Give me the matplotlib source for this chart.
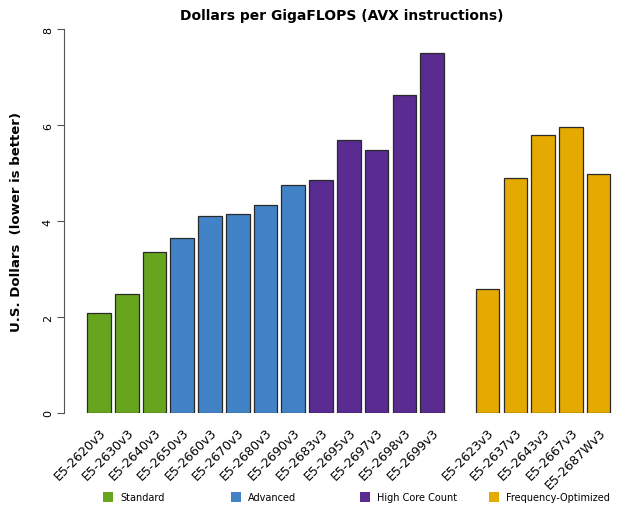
import matplotlib
matplotlib.use("Agg")
import matplotlib.pyplot as plt
from matplotlib.patches import Rectangle

# Data
cpus = ["E5-2620v3", "E5-2630v3", "E5-2640v3",
        "E5-2650v3", "E5-2660v3", "E5-2670v3", "E5-2680v3", "E5-2690v3",
        "E5-2683v3", "E5-2695v3", "E5-2697v3", "E5-2698v3", "E5-2699v3",
        "E5-2623v3", "E5-2637v3", "E5-2643v3", "E5-2667v3", "E5-2687Wv3"]
dollars = [2.08, 2.48, 3.35,
           3.65, 4.10, 4.15, 4.33, 4.75,
           4.85, 5.69, 5.48, 6.63, 7.50,
           2.58, 4.90, 5.79, 5.96, 4.98]
groups = ["Standard"] * 3 + ["Advanced"] * 5 + ["High Core Count"] * 5 + ["Frequency-Optimized"] * 5

group_names = ["Standard", "Advanced", "High Core Count", "Frequency-Optimized"]
group_colors = {"Standard": "#68a51f", "Advanced": "#4283c8",
                "High Core Count": "#5a2b90", "Frequency-Optimized": "#e4aa00"}

# positions: one empty slot before the frequency-optimized group
pos = []
p = 0
for i, g in enumerate(groups):
    if i > 0 and g == "Frequency-Optimized" and groups[i - 1] != g:
        p += 1
    pos.append(p)
    p += 1

W, H = 634, 510
fig = plt.figure(figsize=(W / 100, H / 100), dpi=100)
ax = fig.add_axes([64 / W, 96 / H, 556 / W, 384 / H])

colors = [group_colors[g] for g in groups]
ax.bar(pos, dollars, width=0.85, color=colors, edgecolor="#2a2a2a", linewidth=0.9)

ax.set_xlim(-1.26, 18.77)
ax.set_ylim(0, 8)
ax.set_yticks([0, 2, 4, 6, 8])
ax.set_yticklabels(["0", "2", "4", "6", "8"], rotation=90, va="center", fontsize=8)
ax.tick_params(axis="y", length=5, color="#555555", pad=3)

ax.set_xticks(pos)
ax.set_xticklabels(cpus, rotation=45, ha="right", va="top", rotation_mode="anchor", fontsize=9)
ax.tick_params(axis="x", length=0, pad=9)

for s in ["top", "right", "bottom"]:
    ax.spines[s].set_visible(False)
ax.spines["left"].set_color("#555555")

ax.set_ylabel("U.S. Dollars  (lower is better)", fontsize=9.5, fontweight="bold", labelpad=14)
ax.set_title("Dollars per GigaFLOPS (AVX instructions)", fontsize=10, fontweight="bold", pad=7)

# legend row at the bottom
leg_x = [103, 231, 360, 489]
for x, g in zip(leg_x, group_names):
    fig.patches.append(Rectangle((x / W, (H - 503) / H), 10 / W, 10 / H,
                                 transform=fig.transFigure, facecolor=group_colors[g],
                                 edgecolor="none"))
    fig.text((x + 17) / W, (H - 498) / H, g, fontsize=7, va="center", ha="left")

plt.savefig("out.png", dpi=100)
